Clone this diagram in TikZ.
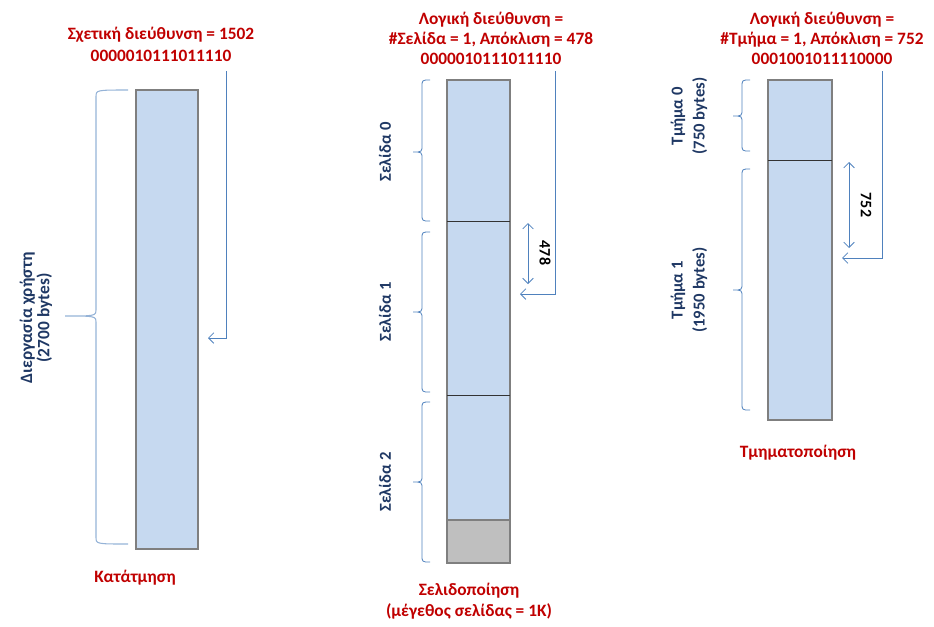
\documentclass[tikz,border=0pt]{standalone}
\usepackage{fontspec}
\setmainfont{Carlito}
\usetikzlibrary{positioning,arrows.meta}

\definecolor{addrred}{HTML}{C00000}
\definecolor{lblblue}{HTML}{1F3864}
\definecolor{memfill}{HTML}{C6D9F0}
\definecolor{memline}{HTML}{7F7F7F}
\definecolor{ptrblue}{HTML}{4F81BD}
\definecolor{brcblue}{HTML}{95B3D7}
\definecolor{wastefill}{HTML}{BFBFBF}

% curly brace opening to the right: ends at x=#1, stem at x=#2, tip at x=#3,
% from y=#4 to y=#5 with the tip at y=#6
\newcommand{\membrace}[7][]{%
  \draw[brc,#1] (#2,#5) .. controls (#3,#5) .. (#3,#5+7) -- (#3,#7-7)
    .. controls (#3,#7) .. (#4,#7) .. controls (#3,#7) .. (#3,#7+7)
    -- (#3,#6-7) .. controls (#3,#6) .. (#2,#6);}

\begin{document}
\begin{tikzpicture}[x=0.75pt,y=-0.75pt,
    title/.style={text=addrred,font=\bfseries\fontsize{13}{15}\selectfont,align=center},
    caption/.style={text=addrred,font=\bfseries\fontsize{13}{15.5}\selectfont,align=center},
    partlbl/.style={text=lblblue,font=\bfseries\fontsize{12.5}{13}\selectfont,align=center,rotate=90},
    offlbl/.style={font=\bfseries\fontsize{12}{13}\selectfont,rotate=-90},
    mem/.style={draw=memline,fill=memfill,line width=1.6pt},
    waste/.style={draw=memline,fill=wastefill,line width=1.6pt},
    divider/.style={draw=black!80,line width=0.7pt},
    brc/.style={draw=ptrblue,line width=0.6pt},
    ptr/.style={draw=ptrblue,line width=0.6pt,-{Straight Barb[length=4pt,width=8pt]}},
    span/.style={draw=ptrblue,line width=0.6pt,{Straight Barb[length=4pt,width=8pt]}-{Straight Barb[length=4pt,width=8pt]}}]
  \useasboundingbox (0,0) rectangle (934,626);

  % Contiguous allocation
  \node[title,font=\bfseries\fontsize{13}{16.5}\selectfont] (rel) at (161,44) {Σχετική διεύθυνση = 1502\\0000010111011110};
  \draw[mem] (136,90) rectangle (198,549);
  \membrace[draw=brcblue,line width=0.8pt]{128}{96}{65}{90}{544}{316}
  \node[partlbl,font=\bfseries\fontsize{13}{13}\selectfont] (proc) at (36,318) {Διεργασία χρήστη\\(2700 bytes)};
  \coordinate (relin)  at (226,71);
  \coordinate (relend) at (208,338);
  \draw[ptr] (relin) |- (relend);
  \node[caption] (cont) at (135,578) {Κατάτμηση};

  % Paging
  \node[title] (logp) at (491,38) {Λογική διεύθυνση =\\\#Σελίδα = 1, Απόκλιση = 478\\0000010111011110};
  \draw[mem] (447,80) rectangle (510,520);
  \draw[waste] (447,520) rectangle (510,563);
  \draw[divider] (447,221) -- (510,221);
  \draw[divider] (447,395) -- (510,395);
  \membrace{430}{422}{413}{80}{221}{152}
  \membrace{430}{422}{413}{232}{392}{312}
  \membrace{430}{422}{413}{402}{562}{482}
  \node[partlbl] (pg0) at (385,152) {Σελίδα 0};
  \node[partlbl] (pg1) at (385,312) {Σελίδα 1};
  \node[partlbl] (pg2) at (385,482) {Σελίδα 2};
  \coordinate (pgin)  at (555,71);
  \coordinate (pgend) at (520,294);
  \draw[ptr] (pgin) |- (pgend);
  \coordinate (pgoffa) at (528,223);
  \coordinate (pgoffb) at (528,284);
  \draw[span] (pgoffa) -- (pgoffb);
  \node[offlbl] (off478) at (545,253) {478};
  \node[caption] (pagi) at (469,601) {Σελιδοποίηση\\(μέγεθος σελίδας = 1K)};

  % Segmentation
  \node[title] (logs) at (822,38) {Λογική διεύθυνση =\\\#Τμήμα = 1, Απόκλιση = 752\\0001001011110000};
  \draw[mem] (768,80) rectangle (832,420);
  \draw[divider] (768,160) -- (832,160);
  \membrace{750}{742}{733}{80}{151}{116}
  \membrace{750}{742}{733}{169}{410}{290}
  \node[partlbl,font=\bfseries\fontsize{12.5}{16.5}\selectfont] (seg0) at (689,116) {Τμήμα 0\\(750 bytes)};
  \node[partlbl,font=\bfseries\fontsize{12.5}{16.5}\selectfont] (seg1) at (689,290) {Τμήμα 1\\(1950 bytes)};
  \coordinate (sgin)  at (882,71);
  \coordinate (sgend) at (842,258);
  \draw[ptr] (sgin) |- (sgend);
  \coordinate (sgoffa) at (849,162);
  \coordinate (sgoffb) at (849,248);
  \draw[span] (sgoffa) -- (sgoffb);
  \node[offlbl] (off752) at (866,205) {752};
  \node[caption] (segm) at (798,453) {Τμηματοποίηση};
\end{tikzpicture}
\end{document}
